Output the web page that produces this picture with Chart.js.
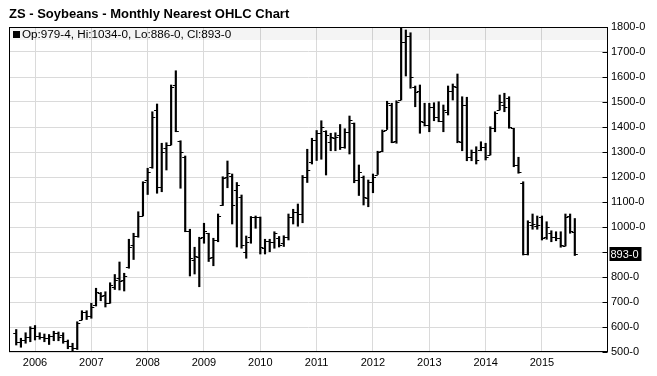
<!DOCTYPE html>
<html>
<head>
<meta charset="utf-8">
<script src="https://cdn.jsdelivr.net/npm/chart.js@4.4.1/dist/chart.umd.min.js"></script>
<style>
  body { margin: 0; background: #fff; }
  #wrap { position: relative; width: 657px; height: 376px; font-family: "Liberation Sans", Arial, sans-serif; }
  #title { position: absolute; left: 9px; top: 6px; font-weight: bold; font-size: 13px; color: #000; }
  #info { position: absolute; left: 13px; top: 28px; font-size: 11.7px; color: #000; line-height: 12px; }
  #info span { display: inline-block; width: 7px; height: 7px; background: #000; margin-right: 2px; }
  canvas { position: absolute; left: 0; top: 0; }
</style>
</head>
<body>
<div id="wrap">
  <canvas id="ohlcChart" width="657" height="376"></canvas>
  <div id="title">ZS - Soybeans - Monthly Nearest OHLC Chart</div>
  <div id="info"><span></span><b style="font-weight:normal" id="infoText"></b></div>
</div>
<script>
// monthly bars, Sep 2005 .. Aug 2015
const months = [];
for (let y = 2005; y <= 2015; y++) {
  for (let m = 1; m <= 12; m++) {
    if ((y === 2005 && m < 9) || (y === 2015 && m > 8)) continue;
    months.push(y + '-' + String(m).padStart(2, '0'));
  }
}

const opens = [
  575, 540, 548, 560,
  598, 565, 560, 555, 565, 575, 570, 545, 525, 515, 630, 660,
  645, 690, 735, 730, 695, 760, 795, 790, 840, 930, 965, 1045,
  1190, 1240, 1470, 1160, 1315, 1330, 1570, 1345, 1280, 985, 870, 880,
  960, 975, 880, 950, 1090, 1200, 1205, 1150, 1120, 900, 960, 1040,
  1040, 915, 945, 940, 955, 935, 960, 1040, 1060, 1050, 1200, 1260,
  1350, 1375, 1385, 1340, 1355, 1370, 1320, 1380, 1415, 1190, 1200, 1115,
  1180, 1210, 1305, 1390, 1490, 1345, 1510, 1740, 1765, 1560, 1545, 1420,
  1410, 1480, 1440, 1425, 1460, 1545, 1560, 1340, 1490, 1280, 1300, 1310,
  1320, 1290, 1395, 1470, 1490, 1515, 1395, 1250, 1175, 890, 1010, 1005,
  1040, 960, 975, 960, 955, 925, 1045, 979.5
];
const highs = [
  590, 555, 577, 601,
  606, 577, 572, 570, 583, 580, 577, 548, 535, 621, 665, 665,
  695, 755, 738, 741, 777, 810, 860, 815, 951, 975, 1061, 1181,
  1235, 1461, 1492, 1335, 1337, 1568, 1625, 1345, 1284, 991, 919, 959,
  1015, 975, 955, 1052, 1201, 1264, 1212, 1178, 1128, 964, 1042, 1044,
  1040, 951, 951, 981, 962, 965, 1052, 1071, 1092, 1206, 1311, 1355,
  1386, 1425, 1385, 1375, 1377, 1410, 1393, 1444, 1416, 1248, 1204, 1188,
  1212, 1303, 1388, 1503, 1495, 1505, 1795, 1788, 1777, 1564, 1568, 1495,
  1495, 1497, 1501, 1488, 1564, 1572, 1612, 1521, 1519, 1308, 1321, 1341,
  1335, 1401, 1461, 1528, 1535, 1521, 1395, 1279, 1181, 1025, 1052, 1044,
  1044, 1021, 985, 981, 981, 1052, 1052, 1034
];
const lows = [
  528, 519, 535, 541,
  548, 551, 541, 530, 545, 545, 535, 513, 503, 510, 628, 630,
  635, 684, 705, 680, 695, 750, 748, 744, 835, 870, 959, 1044,
  1130, 1235, 1135, 1141, 1228, 1328, 1381, 1155, 981, 804, 812, 761,
  935, 862, 845, 941, 1086, 1157, 1012, 920, 915, 875, 935, 995,
  892, 892, 901, 915, 920, 922, 948, 1012, 1003, 1017, 1178, 1252,
  1266, 1271, 1208, 1305, 1305, 1310, 1315, 1292, 1177, 1126, 1088, 1081,
  1137, 1210, 1301, 1390, 1337, 1335, 1508, 1604, 1555, 1481, 1375, 1404,
  1381, 1425, 1421, 1381, 1448, 1508, 1337, 1305, 1265, 1265, 1252, 1305,
  1268, 1288, 1381, 1468, 1461, 1395, 1241, 1215, 888, 888, 991, 991,
  948, 951, 941, 945, 919, 924, 975, 886
];
const closes = [
  540, 548, 560, 598,
  565, 560, 558, 565, 575, 560, 545, 525, 515, 618, 660, 645,
  680, 740, 725, 695, 770, 790, 785, 805, 920, 965, 1045, 1180,
  1220, 1440, 1160, 1300, 1330, 1560, 1385, 1300, 985, 875, 885, 955,
  985, 875, 950, 1045, 1195, 1215, 1090, 1170, 930, 940, 1040, 1040,
  920, 945, 940, 975, 930, 960, 1040, 1060, 1050, 1200, 1230, 1350,
  1375, 1400, 1370, 1360, 1360, 1320, 1380, 1430, 1190, 1220, 1120, 1180,
  1200, 1300, 1385, 1495, 1340, 1500, 1740, 1765, 1600, 1540, 1425, 1410,
  1480, 1440, 1425, 1470, 1545, 1565, 1345, 1490, 1280, 1300, 1268, 1320,
  1280, 1395, 1455, 1500, 1480, 1400, 1250, 1222, 890, 1020, 1012, 1010,
  955, 1000, 960, 955, 930, 1040, 985, 893
];

const yearLabels = ['2006', '2007', '2008', '2009', '2010', '2011', '2012', '2013', '2014', '2015'];
const priceTicks = [500, 600, 700, 800, 900, 1000, 1100, 1200, 1300, 1400, 1500, 1600, 1700, 1800];

// prices are quoted in cents and eighths
function fmt(v) {
  const whole = Math.floor(v);
  return whole + '-' + Math.round((v - whole) * 8);
}

const last = opens.length - 1;
document.getElementById('infoText').textContent =
  'Op:' + fmt(opens[last]) + ', Hi:' + fmt(highs[last]) + ', Lo:' + fmt(lows[last]) + ', Cl:' + fmt(closes[last]);

const ohlcExtras = {
  id: 'ohlcExtras',
  beforeDatasetsDraw(chart) {
    const { ctx, chartArea } = chart;
    ctx.save();
    ctx.fillStyle = 'rgba(0,0,0,0.045)';
    ctx.fillRect(chartArea.left, chartArea.top, chartArea.right - chartArea.left, 13);
    ctx.restore();
  },
  afterDatasetsDraw(chart) {
    const { ctx, scales: { x, y } } = chart;
    ctx.save();
    ctx.strokeStyle = '#000';
    ctx.lineWidth = 1;
    ctx.beginPath();
    opens.forEach((o, i) => {
      const px = x.getPixelForValue(i);
      const yo = Math.round(y.getPixelForValue(o)) + 0.5;
      const yc = Math.round(y.getPixelForValue(closes[i])) + 0.5;
      ctx.moveTo(px - 3, yo);
      ctx.lineTo(px, yo);
      ctx.moveTo(px, yc);
      ctx.lineTo(px + 3, yc);
    });
    ctx.stroke();
    ctx.restore();
  },
  afterDraw(chart) {
    const { ctx, chartArea, scales: { y } } = chart;
    const l = Math.round(chartArea.left) + 0.5, r = Math.round(chartArea.right) - 0.5;
    const t = Math.round(chartArea.top) + 0.5, b = Math.round(chartArea.bottom) - 0.5;
    ctx.save();
    ctx.strokeStyle = '#000';
    ctx.lineWidth = 1;
    ctx.strokeRect(l, t, r - l, b - t);
    // small ticks inside the right axis
    ctx.beginPath();
    priceTicks.forEach(v => {
      const py = Math.round(y.getPixelForValue(v)) + 0.5;
      ctx.moveTo(r - 5, py);
      ctx.lineTo(r, py);
    });
    ctx.stroke();
    // last close marker
    const py = y.getPixelForValue(closes[last]);
    ctx.fillStyle = '#000';
    ctx.fillRect(r + 2, Math.round(py) - 7, 32, 14);
    ctx.fillStyle = '#fff';
    ctx.font = '11px "Liberation Sans", Arial, sans-serif';
    ctx.textBaseline = 'middle';
    ctx.textAlign = 'left';
    ctx.fillText(fmt(closes[last]), r + 3, Math.round(py) + 0.5);
    ctx.restore();
  }
};

const ctx = document.getElementById('ohlcChart').getContext('2d');
new Chart(ctx, {
  type: 'bar',
  data: {
    datasets: [{
      label: 'ZS',
      data: highs.map((h, i) => ({ x: i, y: [lows[i], h] })),
      backgroundColor: '#000',
      borderWidth: 0,
      barThickness: 1.5
    }]
  },
  options: {
    responsive: false,
    animation: false,
    layout: { padding: { left: 9, top: 27, right: 0, bottom: 0 } },
    plugins: { legend: { display: false }, tooltip: { enabled: false }, title: { display: false } },
    scales: {
      x: {
        type: 'linear',
        offset: false,
        min: -1.54,
        max: 126.07,
        grid: { color: '#dadada', offset: false, drawTicks: false },
        border: { display: false },
        afterBuildTicks(scale) {
          scale.ticks = yearLabels.map(yr => ({ value: months.indexOf(yr + '-01') }));
        },
        afterFit(scale) { scale.height = 24; },
        ticks: {
          autoSkip: false,
          maxRotation: 0,
          padding: 4,
          color: '#000',
          font: { family: '"Liberation Sans", Arial, sans-serif', size: 11 },
          callback: v => months[v] ? months[v].slice(0, 4) : ''
        }
      },
      y: {
        position: 'right',
        min: 500,
        max: 1800,
        grid: { color: '#dadada', drawTicks: false },
        border: { display: false },
        afterFit(scale) { scale.width = 49; },
        ticks: {
          stepSize: 100,
          padding: 3,
          color: '#000',
          font: { family: '"Liberation Sans", Arial, sans-serif', size: 11 },
          callback: v => v + '-0'
        }
      }
    }
  },
  plugins: [ohlcExtras]
});
</script>
</body>
</html>
